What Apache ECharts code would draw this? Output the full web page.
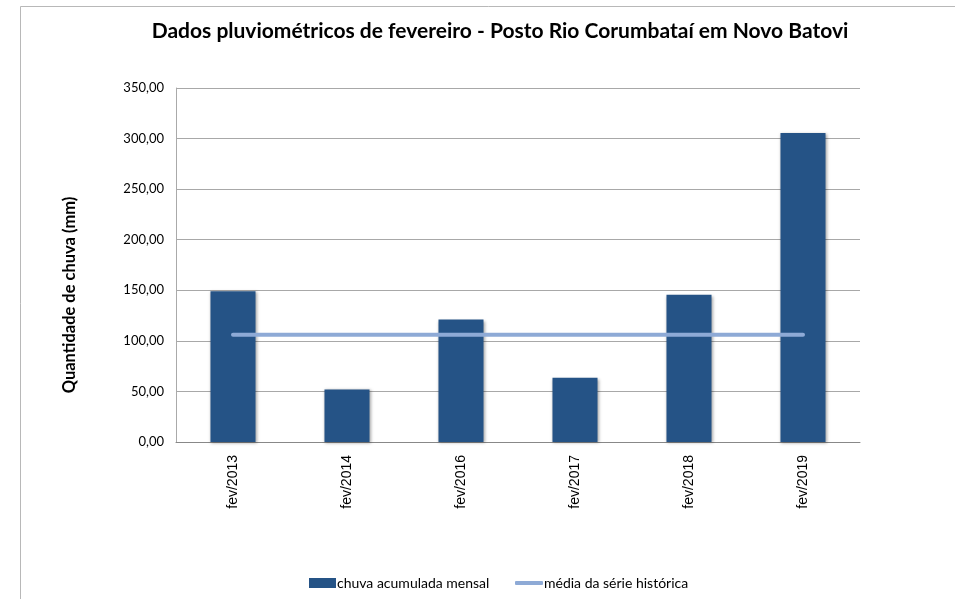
<!DOCTYPE html>
<html>
<head>
<meta charset="utf-8">
<script src="https://cdn.jsdelivr.net/npm/echarts@6/dist/echarts.min.js"></script>
<style>html,body{margin:0;padding:0;background:#fff}#c{width:955px;height:599px}</style>
</head>
<body>
<div id="c"></div>
<script>
const categories = ['fev/2013', 'fev/2014', 'fev/2016', 'fev/2017', 'fev/2018', 'fev/2019'];
const chuvaMensal = [149, 52, 121, 63.5, 145.5, 305.5];
const mediaHistorica = [106, 106, 106, 106, 106, 106];
const yTicks = { min: 0, max: 350, interval: 50 };

const chart = echarts.init(document.getElementById('c'));
chart.setOption({
  backgroundColor: '#fff',
  animation: false,
  title: {
    text: 'Dados pluviométricos de fevereiro - Posto Rio Corumbataí em Novo Batovi',
    left: 495, top: 16, textAlign: 'center',
    textStyle: { fontFamily: 'Lato', fontWeight: 'bold', fontSize: 21, color: '#000' }
  },
  graphic: [
    {
      type: 'rect', shape: { x: 20.5, y: 6.5, width: 1000, height: 1000 },
      style: { fill: 'none', stroke: '#b8b8b8', lineWidth: 1 }, z: -1
    },
    {
      type: 'text', x: 70, y: 295, rotation: Math.PI / 2,
      style: {
        text: 'Quantidade de chuva (mm)', fontFamily: 'Lato', fontWeight: 'bold', fontSize: 16.5,
        fill: '#000', align: 'center', verticalAlign: 'middle'
      }
    }
  ],
  legend: [
    {
      top: 571, left: 304, itemWidth: 27, itemHeight: 10,
      textStyle: { fontFamily: 'Lato', fontSize: 14, color: '#000', padding: [0, 0, 0, -4] },
      data: [{ name: 'chuva acumulada mensal', icon: 'rect' }]
    },
    {
      top: 571, left: 510, itemWidth: 28, itemHeight: 4,
      textStyle: { fontFamily: 'Lato', fontSize: 14, color: '#000', padding: [0, 0, 0, -4] },
      data: [{ name: 'média da série histórica', icon: 'roundRect' }]
    }
  ],
  grid: { left: 176, right: 95, top: 88, bottom: 157, containLabel: false },
  xAxis: {
    type: 'category', data: categories,
    axisLine: { lineStyle: { color: '#888', width: 1 } },
    axisTick: { show: false },
    axisLabel: { rotate: 90, fontFamily: 'Liberation Sans', fontSize: 14, color: '#000', margin: 13 }
  },
  yAxis: {
    type: 'value', min: yTicks.min, max: yTicks.max, interval: yTicks.interval,
    axisLine: { show: true, lineStyle: { color: '#aaa', width: 1 } },
    axisTick: { show: false },
    splitLine: { lineStyle: { color: '#a8a8a8', width: 1 } },
    axisLabel: {
      fontFamily: 'Lato', fontSize: 13, color: '#000', margin: 12,
      formatter: v => v.toFixed(2).replace('.', ',')
    }
  },
  series: [
    {
      name: 'chuva acumulada mensal', type: 'bar', data: chuvaMensal, barWidth: '39.5%',
      itemStyle: { color: '#255386', shadowBlur: 3, shadowColor: 'rgba(0,0,0,0.35)', shadowOffsetX: 1, shadowOffsetY: 1 }
    },
    {
      name: 'média da série histórica', type: 'line', data: mediaHistorica,
      symbol: 'none', showSymbol: false,
      lineStyle: { color: '#8eaad6', width: 4, cap: 'round' },
      itemStyle: { color: '#8eaad6' }
    }
  ]
});
</script>
</body>
</html>
